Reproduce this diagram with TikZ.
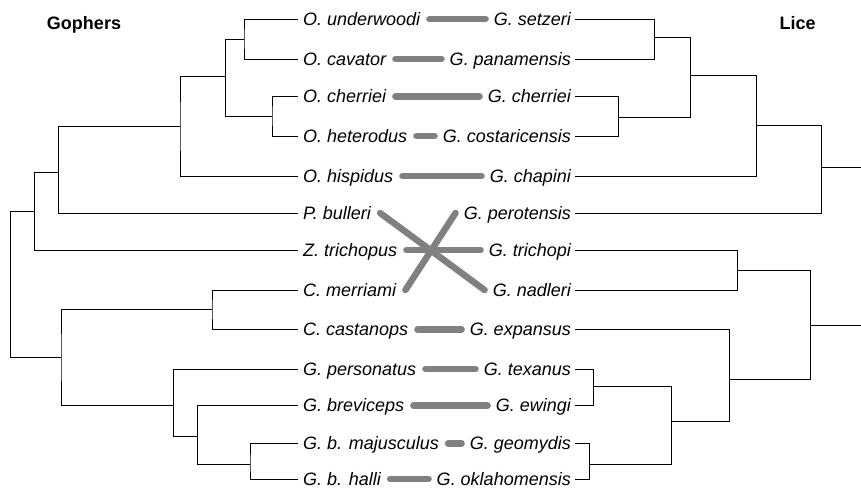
\documentclass[tikz,border=0pt]{standalone}
\usepackage{fontspec}
\setmainfont{Liberation Sans}
\definecolor{linkgray}{HTML}{808080}
\begin{document}
\begin{tikzpicture}[x=1pt,y=-1pt,
  lab/.style={font=\fontsize{18}{18}\selectfont\itshape, text height=12.9pt, text depth=0pt, inner ysep=0pt},
  ll/.style={lab, anchor=west, inner xsep=5pt},
  rl/.style={lab, anchor=east, inner xsep=4pt},
  br/.style={line width=1pt, black},
  lnk/.style={line width=6.5pt, color=linkgray, line cap=round},
  hd/.style={font=\fontsize{18}{18}\selectfont\bfseries, inner sep=0pt, text height=12.9pt, text depth=0pt}]
\useasboundingbox (0,0) rectangle (861,488);
% headings
\node[hd] (hg) at (84,23) {Gophers};
\node[hd] (hl) at (797.5,23) {Lice};
% left labels
\node[ll] (l1) at (298,19) {O. underwoodi};
\node[ll] (l2) at (298,59) {O. cavator};
\node[ll] (l3) at (298,96.5) {O. cherriei};
\node[ll] (l4) at (298,136) {O. heterodus};
\node[ll] (l5) at (298,176) {O. hispidus};
\node[ll] (l6) at (298,213) {P. bulleri};
\node[ll] (l7) at (298,250) {Z. trichopus};
\node[ll] (l8) at (298,290) {C. merriami};
\node[ll] (l9) at (298,329.5) {C. castanops};
\node[ll] (l10) at (298,369) {G. personatus};
\node[ll] (l11) at (298,405.5) {G. breviceps};
\node[ll] (l12) at (298,443.3) {G. b. majusculus};
\node[ll] (l13) at (298,479) {G. b. halli};
% right labels
\node[rl] (r1) at (575,19) {G. setzeri};
\node[rl] (r2) at (575,59) {G. panamensis};
\node[rl] (r3) at (575,96.5) {G. cherriei};
\node[rl] (r4) at (575,136) {G. costaricensis};
\node[rl] (r5) at (575,176) {G. chapini};
\node[rl] (r6) at (575,213) {G. perotensis};
\node[rl] (r7) at (575,250) {G. trichopi};
\node[rl] (r8) at (575,290) {G. nadleri};
\node[rl] (r9) at (575,329.5) {G. expansus};
\node[rl] (r10) at (575,369) {G. texanus};
\node[rl] (r11) at (575,405.5) {G. ewingi};
\node[rl] (r12) at (575,443.3) {G. geomydis};
\node[rl] (r13) at (575,479) {G. oklahomensis};
% left tree internal nodes
\coordinate (a) at (244,39);
\coordinate (b) at (272,116);
\coordinate (c) at (225.7,76);
\coordinate (d) at (180,126.5);
\coordinate (e) at (58.7,172);
\coordinate (f) at (34.3,211);
\coordinate (g) at (212,309.5);
\coordinate (h) at (250,464.7);
\coordinate (i) at (197.3,436.3);
\coordinate (j) at (173.3,405.3);
\coordinate (k) at (61,357.3);
\coordinate (rt) at (10.5,284);
\draw[br] (l1.west) -| (a) |- (l2.west);
\draw[br] (l3.west) -| (b) |- (l4.west);
\draw[br] (a) -| (c) |- (b);
\draw[br] (c) -| (d) |- (l5.west);
\draw[br] (d) -| (e) |- (l6.west);
\draw[br] (e) -| (f) |- (l7.west);
\draw[br] (l8.west) -| (g) |- (l9.west);
\draw[br] (l12.west) -| (h) |- (l13.west);
\draw[br] (l11.west) -| (i) |- (h);
\draw[br] (l10.west) -| (j) |- (i);
\draw[br] (g) -| (k) |- (j);
\draw[br] (f) -| (rt) |- (k);
% right tree internal nodes
\coordinate (A) at (654.3,37);
\coordinate (B) at (618.7,117);
\coordinate (C) at (690.3,75.7);
\coordinate (D) at (756,125);
\coordinate (E) at (821.3,167.7);
\coordinate (Eout) at (861,167.7);
\coordinate (F) at (737,270.7);
\coordinate (G) at (593.3,386);
\coordinate (H) at (589.3,464.7);
\coordinate (I) at (671.7,421.7);
\coordinate (J) at (729.3,379);
\coordinate (K) at (810.7,325);
\coordinate (Kout) at (861,325);
\draw[br] (r1.east) -| (A) |- (r2.east);
\draw[br] (r3.east) -| (B) |- (r4.east);
\draw[br] (A) -| (C) |- (B);
\draw[br] (C) -| (D) |- (r5.east);
\draw[br] (D) -| (E) |- (r6.east);
\draw[br] (E) -- (Eout);
\draw[br] (r7.east) -| (F) |- (r8.east);
\draw[br] (r10.east) -| (G) |- (r11.east);
\draw[br] (r12.east) -| (H) |- (r13.east);
\draw[br] (G) -| (I) |- (H);
\draw[br] (r9.east) -| (J) |- (I);
\draw[br] (F) -| (K) |- (J);
\draw[br] (K) -- (Kout);
% links
\foreach \p/\q in {l1/r1,l2/r2,l3/r3,l4/r4,l5/r5,l6/r8,l7/r7,l8/r6,l9/r9,l10/r10,l11/r11,l12/r12,l13/r13}
  \draw[lnk] ([xshift=4pt]\p.east) -- ([xshift=-4pt]\q.west);
\end{tikzpicture}
\end{document}
